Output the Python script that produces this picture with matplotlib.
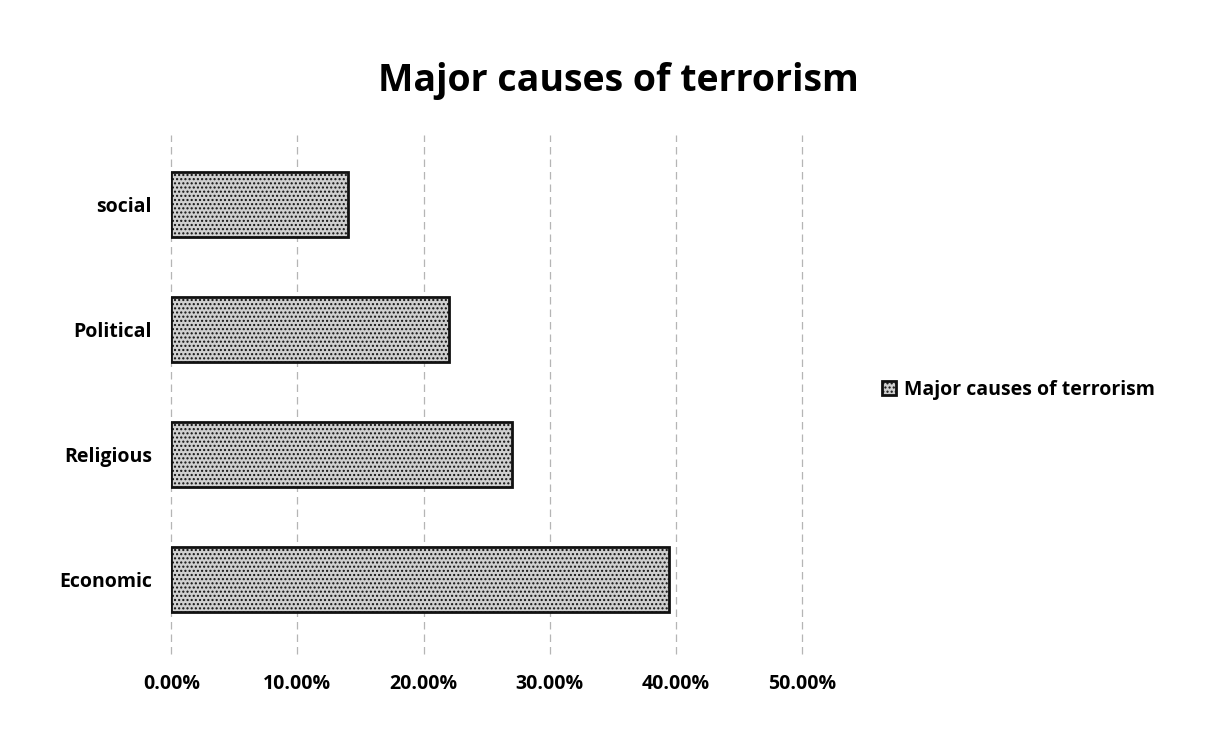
import matplotlib

matplotlib.use("Agg")
import matplotlib.pyplot as plt  # noqa: E402
from matplotlib.ticker import FuncFormatter  # noqa: E402

plt.rcParams["font.family"] = ["Open Sans", "DejaVu Sans"]
plt.rcParams["hatch.color"] = "#8f8f8f"

causes = ["Economic", "Religious", "Political", "social"]
shares = [39.5, 27.0, 22.0, 14.0]  # percent
xticks = [0, 10, 20, 30, 40, 50]
series_name = "Major causes of terrorism"

fig = plt.figure(figsize=(12.24, 7.31), dpi=100)
ax = fig.add_axes([0.14, 0.105, 0.515, 0.71])

ax.barh(causes, shares, height=0.52, color="#cfcfcf", edgecolor="#111",
        linewidth=2.0, hatch="....", label=series_name, zorder=3)

ax.set_xlim(0, 50)
ax.set_xticks(xticks)
ax.xaxis.set_major_formatter(FuncFormatter(lambda v, _: f"{v:.2f}%"))
ax.grid(axis="x", color="#b5b5b5", ls=(0, (6, 4)), lw=0.9, zorder=0, clip_on=False)
for s in ax.spines.values():
    s.set_visible(False)
ax.tick_params(length=0, labelsize=14, pad=14)
for t in ax.get_xticklabels() + ax.get_yticklabels():
    t.set_fontweight("bold")
ax.set_ylim(-0.6, 3.55)

fig.suptitle(series_name, fontsize=27, fontweight="bold", x=0.505, y=0.915)
ax.legend(loc="center left", bbox_to_anchor=(1.1, 0.51), frameon=False,
          handlelength=0.7, handleheight=0.7, handletextpad=0.4,
          prop={"weight": "bold", "size": 14})

fig.savefig("out.png", facecolor="white")
